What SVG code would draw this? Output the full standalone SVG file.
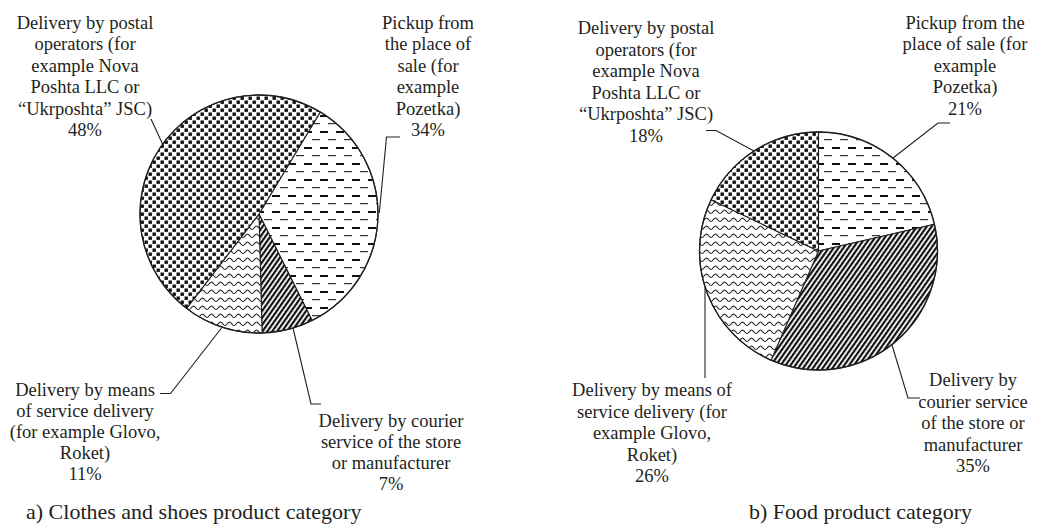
<svg xmlns="http://www.w3.org/2000/svg" width="1041" height="529" viewBox="0 0 1041 529">
<style>
.lbl{font-family:"Liberation Serif","Times New Roman",serif;font-size:18.5px;fill:#231f20;text-anchor:middle}
.cap{font-family:"Liberation Serif","Times New Roman",serif;font-size:22px;fill:#231f20}
.sl{stroke:#231f20;stroke-width:1.1;stroke-linejoin:round}
.rim{fill:none;stroke:#231f20;stroke-width:1.3}
.ld{fill:none;stroke:#231f20;stroke-width:1.1}
</style>
<defs>
<pattern id="pSq" width="8" height="8" patternUnits="userSpaceOnUse">
<rect width="8" height="8" fill="#fff"/>
<rect x="0.5" y="0.5" width="3.4" height="3.4" fill="#111"/>
<rect x="4.5" y="4.5" width="3.4" height="3.4" fill="#111"/>
</pattern>
<pattern id="pDash" width="16" height="16" patternUnits="userSpaceOnUse">
<rect width="16" height="16" fill="#fff"/>
<rect x="0" y="3" width="8" height="2" fill="#111"/>
<rect x="8" y="11" width="8" height="1.2" fill="#333"/>
</pattern>
<pattern id="pWave" width="9" height="8" patternUnits="userSpaceOnUse">
<rect width="9" height="8" fill="#fff"/>
<path d="M0,5.5 C1.8,5.5 2.7,2 4.5,2 C6.3,2 7.2,5.5 9,5.5" fill="none" stroke="#222" stroke-width="1.2"/>
</pattern>
<pattern id="pHatch" width="4" height="4" patternUnits="userSpaceOnUse" patternTransform="rotate(35)">
<rect width="4" height="4" fill="#fff"/>
<rect x="0" y="0" width="2.2" height="4" fill="#111"/>
</pattern>
</defs>

<g id="pieA">
<g id="a-pickup"><path class="sl" fill="url(#pDash)" d="M259,214 L320.29,112 A119,119 0 0 1 312.1,320.5 Z"/></g>
<g id="a-courier"><path class="sl" fill="url(#pHatch)" d="M259,214 L312.1,320.5 A119,119 0 0 1 262.1,332.96 Z"/></g>
<g id="a-service"><path class="sl" fill="url(#pWave)" d="M259,214 L262.1,332.96 A119,119 0 0 1 186.55,308.41 Z"/></g>
<g id="a-postal"><path class="sl" fill="url(#pSq)" d="M259,214 L186.55,308.41 A119,119 0 0 1 320.29,112 Z"/></g>
<circle class="rim" cx="259" cy="214" r="119"/>
</g>

<g id="pieB">
<g id="b-pickup"><path class="sl" fill="url(#pDash)" d="M818.5,251 L818.5,132 A119,119 0 0 1 934.45,224.23 Z"/></g>
<g id="b-courier"><path class="sl" fill="url(#pHatch)" d="M818.5,251 L934.45,224.23 A119,119 0 0 1 771.05,360.14 Z"/></g>
<g id="b-service"><path class="sl" fill="url(#pWave)" d="M818.5,251 L771.05,360.14 A119,119 0 0 1 711.09,199.77 Z"/></g>
<g id="b-postal"><path class="sl" fill="url(#pSq)" d="M818.5,251 L711.09,199.77 A119,119 0 0 1 818.5,132 Z"/></g>
<circle class="rim" cx="818.5" cy="251" r="119"/>
</g>

<g id="connectors">
<polyline class="ld" points="151,119 163,145"/>
<polyline class="ld" points="400,137 386.5,137 379.3,213"/>
<polyline class="ld" points="160,393.5 170.5,393.5 221.5,328"/>
<polyline class="ld" points="293,328 311,404 321,404"/>
<polyline class="ld" points="706,130.5 716,130.5 754,151"/>
<polyline class="ld" points="950,123 938,123 893,158"/>
<polyline class="ld" points="705,287 705,378"/>
<polyline class="ld" points="892,345 908,398 920,398"/>
</g>

<g id="label-a-postal">
<text class="lbl" x="85" y="28.5">Delivery by postal</text>
<text class="lbl" x="85" y="50">operators (for</text>
<text class="lbl" x="85" y="71.5">example Nova</text>
<text class="lbl" x="85" y="93">Poshta LLC or</text>
<text class="lbl" x="85" y="114.5">“Ukrposhta” JSC)</text>
<text class="lbl" x="85" y="136">48%</text>
</g>
<g id="label-a-pickup">
<text class="lbl" x="428" y="28.5">Pickup from</text>
<text class="lbl" x="428" y="50">the place of</text>
<text class="lbl" x="428" y="71.5">sale (for</text>
<text class="lbl" x="428" y="93">example</text>
<text class="lbl" x="428" y="114.5">Pozetka)</text>
<text class="lbl" x="428" y="136">34%</text>
</g>
<g id="label-a-service">
<text class="lbl" x="85" y="396">Delivery by means</text>
<text class="lbl" x="85" y="417">of service delivery</text>
<text class="lbl" x="85" y="438">(for example Glovo,</text>
<text class="lbl" x="85" y="459">Roket)</text>
<text class="lbl" x="85" y="480">11%</text>
</g>
<g id="label-a-courier">
<text class="lbl" x="391" y="427">Delivery by courier</text>
<text class="lbl" x="391" y="448">service of the store</text>
<text class="lbl" x="391" y="469">or manufacturer</text>
<text class="lbl" x="391" y="490">7%</text>
</g>
<g id="label-b-postal">
<text class="lbl" x="646" y="34">Delivery by postal</text>
<text class="lbl" x="646" y="55.5">operators (for</text>
<text class="lbl" x="646" y="77">example Nova</text>
<text class="lbl" x="646" y="98.5">Poshta LLC or</text>
<text class="lbl" x="646" y="120">“Ukrposhta” JSC)</text>
<text class="lbl" x="646" y="141.5">18%</text>
</g>
<g id="label-b-pickup">
<text class="lbl" x="965" y="28.5">Pickup from the</text>
<text class="lbl" x="965" y="50">place of sale (for</text>
<text class="lbl" x="965" y="71.5">example</text>
<text class="lbl" x="965" y="93">Pozetka)</text>
<text class="lbl" x="965" y="114.5">21%</text>
</g>
<g id="label-b-service">
<text class="lbl" x="652" y="396">Delivery by means of</text>
<text class="lbl" x="652" y="417.5">service delivery (for</text>
<text class="lbl" x="652" y="439">example Glovo,</text>
<text class="lbl" x="652" y="460.5">Roket)</text>
<text class="lbl" x="652" y="482">26%</text>
</g>
<g id="label-b-courier">
<text class="lbl" x="973" y="386">Delivery by</text>
<text class="lbl" x="973" y="407.5">courier service</text>
<text class="lbl" x="973" y="429">of the store or</text>
<text class="lbl" x="973" y="450.5">manufacturer</text>
<text class="lbl" x="973" y="472">35%</text>
</g>

<g id="captions">
<text class="cap" x="26" y="519">a) Clothes and shoes product category</text>
<text class="cap" x="749" y="519">b) Food product category</text>
</g>
</svg>
